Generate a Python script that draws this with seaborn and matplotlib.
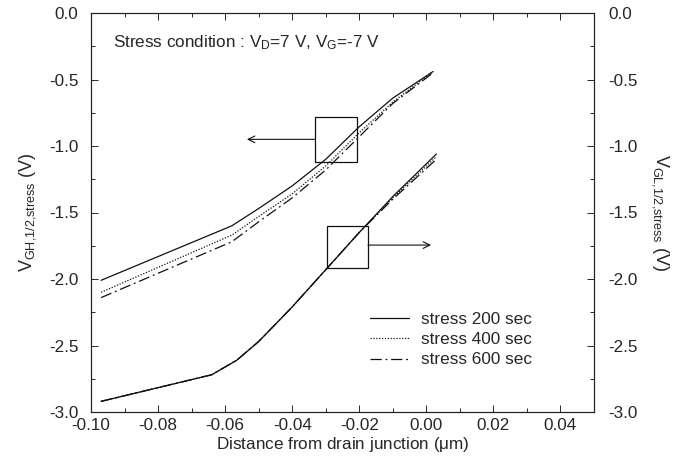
import numpy as np
import pandas as pd
import matplotlib
matplotlib.use("Agg")
import matplotlib.pyplot as plt
import seaborn as sns
from matplotlib.patches import Rectangle

# ---- data ----
stress_labels = ["stress 200 sec", "stress 400 sec", "stress 600 sec"]

x_high = [-0.097, -0.058, -0.05, -0.04, -0.03, -0.02, -0.01, 0.002]
vgh_200 = [-2.01, -1.60, -1.47, -1.30, -1.10, -0.855, -0.64, -0.44]
vgh_400 = [-2.10, -1.67, -1.53, -1.36, -1.15, -0.90, -0.67, -0.44]
vgh_600 = [-2.14, -1.72, -1.57, -1.39, -1.18, -0.93, -0.68, -0.45]

x_low = [-0.097, -0.064, -0.0565, -0.05, -0.04, -0.03, -0.02, -0.01, 0.003]
vgl_200 = [-2.92, -2.72, -2.61, -2.47, -2.21, -1.93, -1.65, -1.38, -1.06]
vgl_400 = [-2.92, -2.72, -2.61, -2.47, -2.21, -1.93, -1.65, -1.39, -1.08]
vgl_600 = [-2.92, -2.72, -2.61, -2.47, -2.21, -1.93, -1.65, -1.40, -1.10]

xticks = [-0.10, -0.08, -0.06, -0.04, -0.02, 0.00, 0.02, 0.04]
yticks = [0.0, -0.5, -1.0, -1.5, -2.0, -2.5, -3.0]

# ---- tables ----
def long(x, series):
    rows = []
    for lab, ys in zip(stress_labels, series):
        for xv, yv in zip(x, ys):
            rows.append({"x": xv, "y": yv, "stress": lab})
    return pd.DataFrame(rows)

df_high = long(x_high, [vgh_200, vgh_400, vgh_600])
df_low = long(x_low, [vgl_200, vgl_400, vgl_600])

sns.set_theme(style="ticks")
plt.rcParams["font.family"] = ["Liberation Sans", "DejaVu Sans"]
plt.rcParams["mathtext.fontset"] = "custom"
plt.rcParams["mathtext.rm"] = "Liberation Sans"
plt.rcParams["mathtext.it"] = "Liberation Sans"

FS = 12.3

fig = plt.figure(figsize=(6.85, 4.63), dpi=100)
ax = fig.add_axes([91/685, 1-412/463, (594-91)/685, (412-13)/463])
ax2 = ax.twinx()

dashes = {"stress 200 sec": "", "stress 400 sec": (1, 1.3), "stress 600 sec": (9, 3, 1.5, 3)}
palette = {k: "#111111" for k in stress_labels}

sns.lineplot(data=df_high, x="x", y="y", hue="stress", style="stress", dashes=dashes,
             palette=palette, sort=False, estimator=None, lw=0.9, ax=ax, legend=True)
sns.lineplot(data=df_low, x="x", y="y", hue="stress", style="stress", dashes=dashes,
             palette=palette, sort=False, estimator=None, lw=0.9, ax=ax2, legend=False)

for a in (ax, ax2):
    a.set_xlim(-0.10, 0.05)
    a.set_ylim(-3.0, 0.0)
    a.set_yticks(yticks)
    a.set_yticklabels([f"{v:.1f}" for v in yticks])
    a.set_yticks(np.arange(-3.0, 0.01, 0.25), minor=True)
    for s in a.spines.values():
        s.set_linewidth(0.8)
        s.set_color("#222222")

ax.set_xticks(xticks)
ax.set_xticklabels([f"{v:.2f}" for v in xticks])
ax.set_xticks(np.arange(-0.10, 0.0501, 0.01), minor=True)
ax.tick_params(which="both", direction="in", top=True, labelsize=FS, pad=4, width=0.7)
ax.tick_params(axis="y", pad=9)
ax.tick_params(which="major", length=5)
ax.tick_params(which="minor", length=3)
ax2.tick_params(which="both", direction="in", labelsize=FS, pad=10, width=0.7)
ax2.tick_params(which="major", length=5)
ax2.tick_params(which="minor", length=3)

ax.set_xlabel(r"Distance from drain junction ($\mu$m)", fontsize=FS, labelpad=2)
ax.set_ylabel(r"V$_{\mathrm{GH{,}1/2{,}stress}}$ (V)", fontsize=13, labelpad=8)
ax2.set_ylabel(r"V$_{\mathrm{GL{,}1/2{,}stress}}$ (V)", fontsize=13, rotation=-90, labelpad=24)

ax.text(-0.0935, -0.22, r"Stress condition : V$_\mathrm{D}$=7 V, V$_\mathrm{G}$=-7 V",
        fontsize=FS, va="center", ha="left")

# boxes and arrows
ax.add_patch(Rectangle((-0.0332, -1.12), 0.0125, 0.34, fill=False, lw=0.9, ec="#111111"))
ax.annotate("", xy=(-0.0535, -0.95), xytext=(-0.0332, -0.95),
            arrowprops=dict(arrowstyle="->", lw=0.8, color="#111111", shrinkA=0, shrinkB=0))
ax2.add_patch(Rectangle((-0.0296, -1.92), 0.0122, 0.32, fill=False, lw=0.9, ec="#111111"))
ax2.annotate("", xy=(0.0014, -1.745), xytext=(-0.0174, -1.745),
             arrowprops=dict(arrowstyle="->", lw=0.8, color="#111111", shrinkA=0, shrinkB=0))

leg = ax.legend(loc="upper left", bbox_to_anchor=(0.5547, 0.25), frameon=False, fontsize=FS,
                handlelength=2.3, handletextpad=0.7, labelspacing=0.3, borderpad=0,
                borderaxespad=0, title=None)
for l in leg.get_lines():
    l.set_linewidth(0.9)

fig.savefig("out.png", dpi=100)
